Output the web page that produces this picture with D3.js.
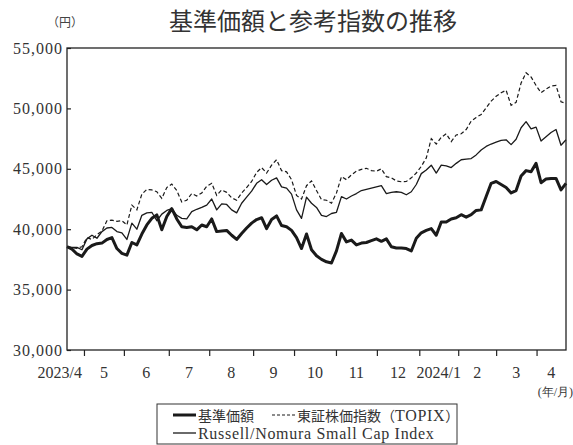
<!DOCTYPE html>
<html>
<head>
<meta charset="utf-8">
<script src="https://cdn.jsdelivr.net/npm/d3@7/dist/d3.min.js"></script>
<style>
body { margin: 0; background: #fff; }
svg { display: block; }
</style>
</head>
<body>
<script>
// values, one sample about every 2.5 trading days (2023/4 -> 2024/4)
const fund = [38550,38350,37950,37750,38350,38650,38800,38850,39150,39300,
  38400,38000,37850,38900,38700,39600,40350,40900,41180,39950,
  41050,41700,40850,40200,40150,40200,39950,40350,40200,40850,
  39800,39850,39900,39500,39150,39650,40100,40500,40800,40950,
  40050,40800,41100,40300,40200,39900,39300,38400,39600,38300,
  37800,37500,37300,37200,38200,39650,38950,39100,38700,38850,
  38900,39050,39200,39000,39200,38550,38450,38450,38400,38200,
  39250,39700,39900,40050,39500,40600,40600,40850,40950,41200,
  41000,41200,41550,41600,42700,43800,43950,43700,43450,43000,
  43200,44400,44850,44750,45450,43850,44150,44200,44200,43250,43800];

const topix = [38550,38450,38420,38550,39300,39150,39550,39850,40700,40750,
  40650,40700,40350,42000,41600,42900,43300,43250,43100,42550,
  43450,43740,43200,42250,42400,42950,42750,43000,43550,43800,
  42800,43250,43050,42600,42400,43000,43450,43950,44700,45100,
  44650,45300,45750,44850,44750,44100,42800,42500,43600,44000,
  43200,42450,42400,42150,43000,44350,44100,44500,44800,44950,
  45040,44850,44800,45000,44350,44250,44000,43930,43950,44250,
  44650,45200,45900,47500,47050,47600,47900,47250,47800,47900,
  48250,48950,49250,49500,50050,50600,51000,51300,51500,50250,
  50500,52100,52950,52600,51900,51300,51600,51850,51900,50550,50400];

const russell = [38550,38500,38500,38300,39200,39500,39250,39800,40100,40150,
  39800,39700,39150,40500,40000,41150,41350,41400,40700,41250,
  41550,41700,41150,40900,40850,41450,41650,41800,42000,42500,
  41600,42100,42050,41600,41350,42150,42650,43150,43800,44100,
  43700,44050,44250,43500,43400,42900,41600,40900,42650,42150,
  41800,41150,41050,41300,41400,42700,42500,42750,42950,43200,
  43300,43400,43500,43600,42950,43050,43100,43050,42850,43100,
  43700,44600,44900,45300,44650,45300,45250,45100,45450,45750,
  45800,45850,46150,46550,46850,47050,47200,47350,47400,47000,
  47450,48400,48900,48300,48450,47300,47650,48000,48250,46950,47400];

// month boundaries (in sample units) and their labels
const monthStarts = [3.4, 11.4, 20.4, 28.5, 37.3, 45.5, 53.9, 62.1, 70.6, 78.4, 86.0, 94.1];
const monthLabels = ["2023/4","5","6","7","8","9","10","11","12","2024/1","2","3","4"];
const yTicks = [30000, 35000, 40000, 45000, 50000, 55000];

const W = 573, H = 445;
const margin = {top: 48, right: 7, bottom: 95, left: 67};
const serif = "'Liberation Serif','DejaVu Serif',serif";
const gothic = "'Noto Sans CJK JP','Noto Sans',sans-serif";

const svg = d3.select("body").append("svg")
  .attr("width", W)
  .attr("height", H);

const x = d3.scaleLinear()
  .domain([0, fund.length - 1])
  .range([margin.left, W - margin.right]);

const y = d3.scaleLinear()
  .domain([30000, 55000])
  .range([H - margin.bottom, margin.top]);

// title
svg.append("text")
  .attr("x", 313).attr("y", 30)
  .attr("text-anchor", "middle")
  .attr("font-family", gothic)
  .attr("font-size", 24)
  .attr("fill", "#333")
  .text("基準価額と参考指数の推移");

svg.append("text")
  .attr("x", 65).attr("y", 27)
  .attr("text-anchor", "middle")
  .attr("font-family", gothic)
  .attr("font-size", 12)
  .attr("fill", "#444")
  .text("（円）");

// y axis (ticks inward)
const yAxis = d3.axisRight(y)
  .tickValues(yTicks)
  .tickSize(4)
  .tickFormat("");
const gy = svg.append("g")
  .attr("transform", `translate(${margin.left},0)`)
  .call(yAxis);
gy.select(".domain").remove();
gy.selectAll(".tick line").attr("stroke", "#222").attr("stroke-width", 1.2);

svg.append("g").selectAll("text")
  .data(yTicks)
  .join("text")
  .attr("x", margin.left - 4)
  .attr("y", d => y(d))
  .attr("dy", "0.35em")
  .attr("text-anchor", "end")
  .attr("font-family", serif)
  .attr("font-size", 16)
  .attr("letter-spacing", 1)
  .attr("fill", "#333")
  .text(d => d3.format(",")(d));

// x axis: ticks at month boundaries, labels in the middle of each month
const xAxis = d3.axisBottom(x)
  .tickValues(monthStarts)
  .tickSize(6)
  .tickFormat("");
const gx = svg.append("g")
  .attr("transform", `translate(0,${H - margin.bottom})`)
  .call(xAxis);
gx.select(".domain").remove();
gx.selectAll(".tick line").attr("stroke", "#222").attr("stroke-width", 1.2);

const bounds = [0, ...monthStarts, fund.length - 1];
svg.append("g").selectAll("text")
  .data(monthLabels)
  .join("text")
  .attr("x", (d, i) => i === 0 ? x(bounds[1]) - 2 : (x(bounds[i]) + x(bounds[i + 1])) / 2)
  .attr("y", H - margin.bottom + 28)
  .attr("text-anchor", (d, i) => i === 0 ? "end" : "middle")
  .attr("font-family", serif)
  .attr("font-size", 16)
  .attr("fill", "#333")
  .text(d => d);

svg.append("text")
  .attr("x", 573).attr("y", 396)
  .attr("text-anchor", "end")
  .attr("font-family", serif)
  .attr("font-size", 12)
  .attr("fill", "#333")
  .text("(年/月)");

// lines
const line = d3.line()
  .x((d, i) => x(i))
  .y(d => y(d));

const plot = svg.append("g");
plot.append("path")
  .datum(russell)
  .attr("fill", "none")
  .attr("stroke", "#1a1a1a")
  .attr("stroke-width", 1.3)
  .attr("stroke-linejoin", "round")
  .attr("d", line);
plot.append("path")
  .datum(topix)
  .attr("fill", "none")
  .attr("stroke", "#1a1a1a")
  .attr("stroke-width", 1.2)
  .attr("stroke-dasharray", "4,2.5")
  .attr("d", line);
plot.append("path")
  .datum(fund)
  .attr("fill", "none")
  .attr("stroke", "#1a1a1a")
  .attr("stroke-width", 3)
  .attr("stroke-linejoin", "round")
  .attr("d", line);

// frame
svg.append("rect")
  .attr("x", margin.left).attr("y", margin.top)
  .attr("width", W - margin.left - margin.right)
  .attr("height", H - margin.top - margin.bottom)
  .attr("fill", "none")
  .attr("stroke", "#222")
  .attr("stroke-width", 1.3);

// legend
const lg = svg.append("g");
lg.append("rect")
  .attr("x", 157).attr("y", 404)
  .attr("width", 300).attr("height", 40)
  .attr("fill", "#fff")
  .attr("stroke", "#333")
  .attr("stroke-width", 1);

const legendItems = [
  {parts: [["基準価額", gothic, 14]], x: 173, y: 415, w: 3, dash: null},
  {parts: [["東証株価指数（", gothic, 14], ["TOPIX", serif, 16], ["）", gothic, 14]], x: 272, y: 415, w: 1.2, dash: "3,2"},
  {parts: [["Russell/Nomura Small Cap Index", serif, 16]], x: 173, y: 433, w: 1.3, dash: null}
];
legendItems.forEach(it => {
  lg.append("line")
    .attr("x1", it.x).attr("x2", it.x + 23)
    .attr("y1", it.y).attr("y2", it.y)
    .attr("stroke", "#1a1a1a")
    .attr("stroke-width", it.w)
    .attr("stroke-dasharray", it.dash);
  const t = lg.append("text")
    .attr("x", it.x + 25).attr("y", it.y)
    .attr("dy", "0.35em")
    .attr("fill", "#333");
  it.parts.forEach(p => {
    t.append("tspan")
      .attr("font-family", p[1])
      .attr("font-size", p[2])
      .attr("letter-spacing", p[1] === serif ? 0.7 : 0)
      .text(p[0]);
  });
});
</script>
</body>
</html>
